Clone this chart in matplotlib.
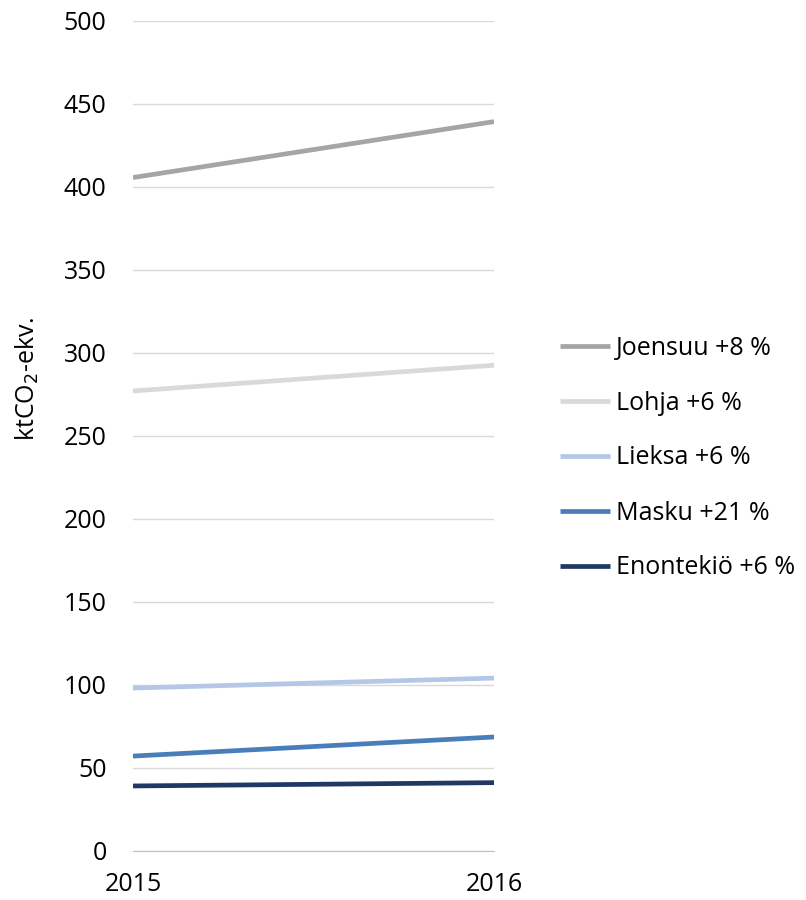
import matplotlib.pyplot as plt

plt.rcParams['font.family'] = ['Open Sans', 'DejaVu Sans']

years = [2015, 2016]
names = ["Joensuu +8 %", "Lohja +6 %", "Lieksa +6 %", "Masku +21 %", "Enontekiö +6 %"]
joensuu = [405.6, 439.3]
lohja = [277, 292.5]
lieksa = [98, 104]
masku = [57, 68.5]
enontekio = [39, 41]
colors = ["#A5A5A5", "#D9D9D9", "#B4C7E7", "#4A7EBB", "#203864"]

fig = plt.figure(figsize=(8.06, 9), dpi=100)
ax = fig.add_axes([0.165, 0.0548, 0.448, 0.922])

for vals, name, c in zip([joensuu, lohja, lieksa, masku, enontekio], names, colors):
    ax.plot(years, vals, color=c, lw=3.4, label=name, solid_capstyle="butt")

ax.set_xlim(2015, 2016)
ax.set_ylim(0, 500)
ax.set_yticks(range(0, 501, 50))
ax.set_xticks(years)
ax.grid(axis="y", color="#D9D9D9", lw=1)
ax.set_axisbelow(True)
for s in ["top", "right", "left"]:
    ax.spines[s].set_visible(False)
ax.spines["bottom"].set_color("#BFBFBF")
ax.tick_params(length=0, labelsize=18, colors="#000000")
ax.tick_params(axis="y", pad=19)
ax.tick_params(axis="x", pad=15)

# y label sits above the axes centre in the original
fig.text(27 / 806, 1 - 379 / 900, r"ktCO$_2$-ekv.", fontsize=18,
         rotation=90, ha="center", va="center")

fig.legend(loc="center left", bbox_to_anchor=(560 / 806, 1 - 458 / 900),
           frameon=False, fontsize=18, handlelength=2.0, handletextpad=0.25,
           labelspacing=1.2, borderpad=0, borderaxespad=0)

fig.savefig("out.png", dpi=100)
